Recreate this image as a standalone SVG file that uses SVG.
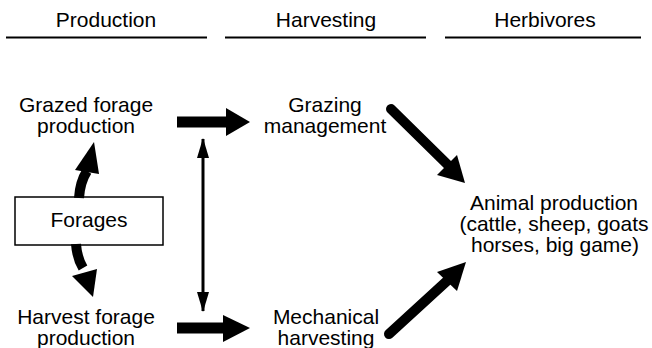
<svg xmlns="http://www.w3.org/2000/svg" width="652" height="348" viewBox="0 0 652 348">
<style>
text{font-family:"Liberation Sans",Arial,Helvetica,sans-serif;font-size:21px;fill:#000;text-anchor:middle}
.rule{stroke:#000;stroke-width:2}
.shaft{fill:none;stroke:#000;stroke-width:10}
.head{fill:#000}
</style>
<defs>
<marker id="ah" viewBox="0 0 20 12" refX="19" refY="6" markerWidth="20" markerHeight="12" markerUnits="userSpaceOnUse" orient="auto-start-reverse">
<path d="M0,0 L20,6 L0,12 Z" fill="#000"/>
</marker>
</defs>
<g id="headers">
<text x="106" y="27">Production</text>
<text x="326" y="27">Harvesting</text>
<text x="545" y="27">Herbivores</text>
<line class="rule" x1="6" y1="37.5" x2="207" y2="37.5"/>
<line class="rule" x1="225" y1="37.5" x2="426" y2="37.5"/>
<line class="rule" x1="445" y1="37.5" x2="641" y2="37.5"/>
</g>
<g id="grazed">
<text x="86" y="112">Grazed forage</text>
<text x="86" y="133">production</text>
</g>
<g id="forages">
<rect x="15" y="197" width="148" height="48" fill="#fff" stroke="#000" stroke-width="1.5"/>
<text x="89" y="227">Forages</text>
</g>
<g id="harvest">
<text x="86" y="324">Harvest forage</text>
<text x="86" y="345">production</text>
</g>
<g id="grazing">
<text x="325" y="112">Grazing</text>
<text x="325" y="133">management</text>
</g>
<g id="mechanical">
<text x="326" y="324">Mechanical</text>
<text x="326" y="345">harvesting</text>
</g>
<g id="animal">
<text x="554" y="210">Animal production</text>
<text x="554" y="231">(cattle, sheep, goats</text>
<text x="555" y="252">horses, big game)</text>
</g>
<g id="connectors">
<path class="shaft" d="M79,198 Q80,182 87,171"/>
<polygon class="head" points="94,142 75,170 99,174"/>
<path class="shaft" d="M76,244 Q77,258 83,268"/>
<polygon class="head" points="72,276 97,269 93,297"/>
<rect x="177" y="116.5" width="51" height="11"/>
<polygon class="head" points="226,108 250,122 226,136"/>
<rect x="177" y="322.5" width="48" height="11"/>
<polygon class="head" points="223,315 250,328 223,342"/>
<line x1="203" y1="139" x2="203" y2="311" stroke="#000" stroke-width="3" marker-start="url(#ah)" marker-end="url(#ah)"/>
<path class="shaft" d="M391,109 L449,166" stroke-linecap="round" stroke-width="11"/>
<polygon class="head" points="465,183 437,175 457,155"/>
<path class="shaft" d="M389,334 L448,280" stroke-linecap="round" stroke-width="11"/>
<polygon class="head" points="466,262 437,272 457,291"/>
</g>
</svg>
